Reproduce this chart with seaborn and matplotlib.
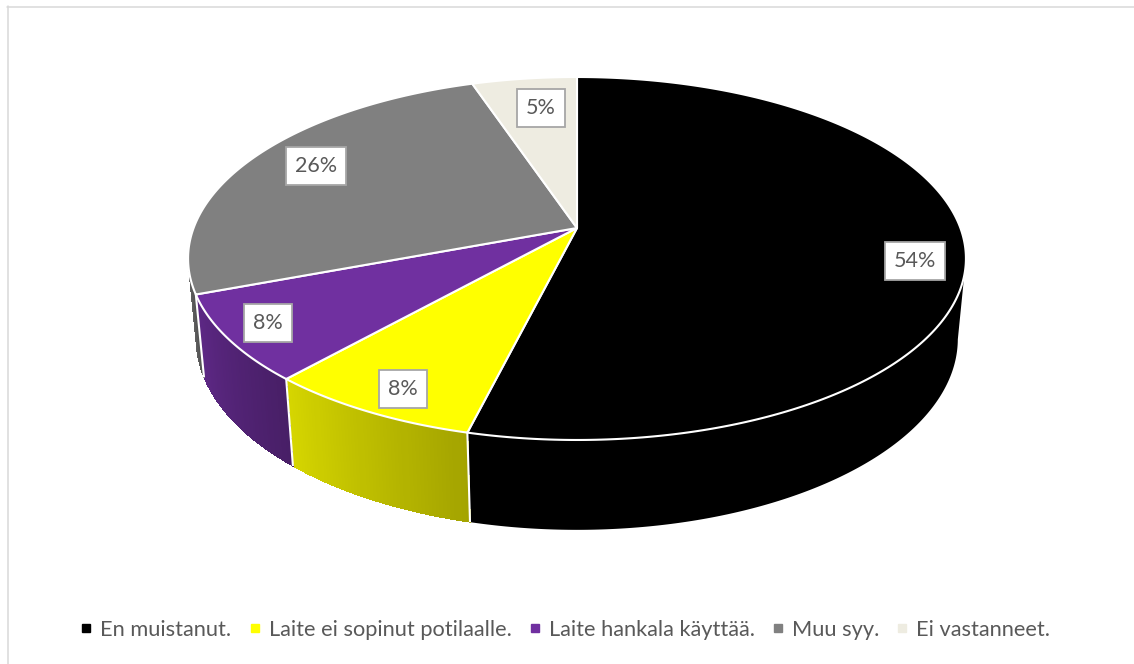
import numpy as np
import matplotlib
matplotlib.use("Agg")
import matplotlib.pyplot as plt
from matplotlib.patches import Polygon
from matplotlib.lines import Line2D
import seaborn as sns

# ---------------- data ----------------
categories = ["En muistanut.", "Laite ei sopinut potilaalle.",
              "Laite hankala käyttää.", "Muu syy.", "Ei vastanneet."]
counts = [21, 3, 3, 10, 2]
pct_labels = ["54%", "8%", "8%", "26%", "5%"]
colors = ["#000000", "#FFFF00", "#7030A0", "#808080", "#EEECE1"]

# ---------------- layout ----------------
W, H = 1134, 664
CX, CY = 577, 228          # apex of the pie (pixels)
K = 383.4                  # radius scale
SIN_PHI = 0.46             # elevation of view
COS_PHI = np.sqrt(1 - SIN_PHI ** 2)
PERSP = 0.168
D = COS_PHI / PERSP
DEPTH = 0.238              # thickness of the pie (in radii)
LABEL_R = [0.874, 0.884, 0.889, 0.814, 0.775]
LABEL_DTHETA = [-5.0, 1.3, -0.85, -1.9, -1.3]
TEXT_COL = "#595959"

sns.set_theme(style="white")
plt.rcParams["font.family"] = ["Lato", "DejaVu Sans"]

fig = plt.figure(figsize=(W / 100, H / 100), dpi=100)
ax = fig.add_axes([0, 0, 1, 1])
ax.set_xlim(0, W)
ax.set_ylim(H, 0)
ax.axis("off")


def project(theta_deg, rho=1.0, z=0.0):
    t = np.radians(theta_deg)
    x = rho * np.cos(t)
    y = rho * np.sin(t)
    v = y * SIN_PHI + z * COS_PHI
    w = y * COS_PHI - z * SIN_PHI
    s = 1 + w / D
    return CX + K * x / s, CY - K * v / s


total = float(sum(counts))
cum = np.concatenate([[0], np.cumsum(counts)])
theta1 = 90 - 360 * cum[:-1] / total   # start (counter-clockwise end)
theta2 = 90 - 360 * cum[1:] / total    # end (clockwise)

vis_lo = -180 + np.degrees(np.arcsin(PERSP))
vis_hi = -np.degrees(np.arcsin(PERSP))


def shade(c, f):
    r, g, b = matplotlib.colors.to_rgb(c)
    return (r * f, g * f, b * f)


def side_poly(lo, hi, n=60):
    tt = np.linspace(lo, hi, n)
    xt, yt = project(tt, 1.0, 0.0)
    xb, yb = project(tt[::-1], 1.0, -DEPTH)
    return np.column_stack([np.r_[xt, xb], np.r_[yt, yb]])


# ---- side walls ----
for i, c in enumerate(colors):
    lo = max(theta2[i], vis_lo)
    hi = min(theta1[i], vis_hi)
    if hi <= lo:
        continue
    base = shade(c, 0.74)
    ax.add_patch(Polygon(side_poly(lo, hi, 200), closed=True, fc=base,
                         ec="none", zorder=1))
    if c == "#000000":
        continue
    n = max(int((hi - lo) * 2), 4)
    ts = np.linspace(lo, hi, n + 1)
    for j in range(n):
        t = ((ts[j] + ts[j + 1]) / 2 - lo) / (hi - lo)
        col = shade(c, 0.84 - 0.2 * t)
        ax.add_patch(Polygon(side_poly(ts[j], ts[j + 1] + 0.05, 4), closed=True,
                             fc=col, ec="none", antialiased=False, zorder=1.5))

# white separators between slices on the side wall
for b in theta2[:-1]:
    if vis_lo < b < vis_hi:
        x0, y0 = project(b, 1.0, 0.0)
        x1, y1 = project(b, 1.0, -DEPTH)
        ax.plot([x0, x1], [y0, y1], color="white", lw=1.5, zorder=2,
                solid_capstyle="butt")

# ---- top faces ----
for i, c in enumerate(colors):
    tt = np.linspace(theta1[i], theta2[i], 300)
    xa, ya = project(tt)
    xs = np.r_[CX, xa]
    ys = np.r_[CY, ya]
    ax.add_patch(Polygon(np.column_stack([xs, ys]), closed=True, fc=c,
                         ec="white", lw=1.5, joinstyle="round", zorder=3))

# ---- data labels ----
for i, lab in enumerate(pct_labels):
    mid = (theta1[i] + theta2[i]) / 2 + LABEL_DTHETA[i]
    lx, ly = project(mid, LABEL_R[i])
    ax.text(lx, ly, lab, ha="center", va="center", fontsize=15.5, color=TEXT_COL,
            zorder=5,
            bbox=dict(boxstyle="square,pad=0.42", fc="white", ec="#A6A6A6", lw=1.3))

# ---- legend ----
handles = [Line2D([], [], marker="s", linestyle="none", markersize=6,
                  markerfacecolor=c, markeredgecolor=c) for c in colors]
fig.legend(handles, categories, loc="center", ncol=5,
           bbox_to_anchor=(565 / W, (H - 630) / H), frameon=False,
           fontsize=15.7, labelcolor=TEXT_COL, handlelength=0.6,
           handletextpad=0.34, columnspacing=0.76, borderpad=0)

# ---- chart border (top & left) ----
fig.add_artist(Line2D([7 / W, 1], [1 - 6.5 / H] * 2, transform=fig.transFigure,
                      color="#D9D9D9", lw=1.1))
fig.add_artist(Line2D([7.5 / W] * 2, [0, 1 - 6 / H], transform=fig.transFigure,
                      color="#D9D9D9", lw=1.1))

fig.savefig("out.png", dpi=100)
